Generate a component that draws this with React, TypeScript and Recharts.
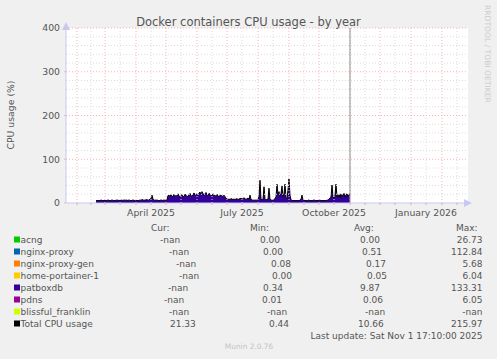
import { Area, AreaChart, CartesianGrid, ReferenceLine, XAxis, YAxis } from 'recharts';

// day numbers count from Jan 1 2025 (day 0)
const firstDataDay = 50;

// Total CPU usage (%), one value per day, Feb 20 2025 .. Nov 1 2025
const totalCpu = [
    5, 6, 5, 6, 5, 7, 6, 5, 6, 6,
    5, 6, 7, 6, 5, 6, 7, 6, 5, 6,
    6, 7, 6, 6, 5, 7, 6, 6, 7, 6,
    7, 6, 6, 7, 6, 5, 6, 7, 6, 5,
    5, 6, 5, 6, 7, 6, 8, 7, 6, 7,
    7, 8, 6, 7, 9, 10, 18, 9, 6, 7,
    6, 7, 6, 5, 6, 7, 6, 6, 7, 6,
    7, 8, 17, 18, 15, 19, 16, 14, 20, 17,
    15, 18, 21, 16, 13, 17, 19, 14, 15, 20,
    18, 14, 16, 19, 22, 17, 15, 20, 23, 18,
    21, 19, 17, 23, 25, 20, 26, 22, 18, 21,
    24, 19, 17, 22, 20, 18, 16, 21, 19, 15,
    17, 20, 16, 14, 18, 17, 16, 15, 18, 14,
    12, 9, 8, 9, 8, 10, 9, 8, 9, 8,
    9, 10, 8, 9, 10, 11, 9, 10, 12, 10,
    8, 10, 11, 9, 18, 8, 7, 6, 7, 6,
    7, 6, 8, 16, 52, 9, 7, 8, 37, 10,
    7, 8, 9, 34, 8, 7, 6, 7, 8, 10,
    14, 43, 20, 26, 15, 22, 39, 14, 21, 43,
    12, 10, 30, 55, 18, 7, 6, 5, 6, 5,
    6, 5, 6, 5, 7, 8, 18, 7, 6, 5,
    6, 5, 6, 7, 5, 6, 5, 6, 7, 6,
    5, 6, 5, 6, 7, 5, 6, 5, 6, 5,
    6, 6, 7, 8, 12, 14, 41, 15, 10, 18,
    43, 14, 19, 13, 21, 12, 20, 16, 22, 13,
    19, 21, 14, 20, 21,
];

const nowDay = 304;
const monthStartDays = [31, 59, 90, 120, 151, 181, 212, 243, 273, 304, 334, 365, 396];
const midMonthDays = [45, 74, 105, 135, 166, 196, 227, 258, 288, 319, 349, 380, 411];
const xLabelDays = [105, 196, 288, 380];
const xLabels = ['April 2025', 'July 2025', 'October 2025', 'January 2026'];

const yTicks = [0, 100, 200, 300, 400];
const yMinor = [20, 40, 60, 80, 120, 140, 160, 180, 220, 240, 260, 280, 320, 340, 360, 380];

const legendNames = ['acng', 'nginx-proxy', 'nginx-proxy-gen', 'home-portainer-1', 'patboxdb', 'pdns', 'blissful_franklin', 'Total CPU usage'];
const legendColors = ['#00CC00', '#0066B3', '#FF8000', '#FFCC00', '#330099', '#990099', '#CCFF00', '#000000'];
const curValues = ['-nan', '-nan', '-nan', '-nan', '-nan', '-nan', '-nan', '21.33'];
const minValues = ['0.00', '0.00', '0.08', '0.00', '0.34', '0.01', '-nan', '0.44'];
const avgValues = ['0.00', '0.51', '0.17', '0.05', '9.87', '0.06', '-nan', '10.66'];
const maxValues = ['26.73', '112.84', '5.68', '6.04', '133.31', '6.05', '-nan', '215.97'];

// where rrdtool put each column's text
const curX = [160, 169, 176, 179, 168, 164, 169, 170];
const minX = [260, 263, 271, 272, 263, 262, 267, 269];
const avgX = [360, 362, 366, 367, 360, 363, 365, 358];

const font = '"DejaVu Sans", sans-serif';
const textColor = '#555';
const minorGrid = '#dcdcdc';
const majorGrid = '#f4b4b4';

export default function App() {
    const data = totalCpu.map((v, i) => ({ day: firstDataDay + i, total: v }));
    const allTicks = [...monthStartDays, ...midMonthDays].sort((a, b) => a - b);

    return (
        <div style={{ position: 'absolute', left: 0, top: 0, width: 497, height: 359, background: '#f0f0f0', fontFamily: font }}>
            <svg width={0} height={0} style={{ position: 'absolute' }}>
                <defs>
                    <marker id="arrowX" markerUnits="userSpaceOnUse" markerWidth={8} markerHeight={8} viewBox="0 0 8 8" refX={4} refY={4} orient="auto">
                        <path d="M0,0 L8,4 L0,8 z" fill="#c8c8f4" />
                    </marker>
                    <marker id="arrowY" markerUnits="userSpaceOnUse" markerWidth={8} markerHeight={8} viewBox="0 0 8 8" refX={2} refY={4} orient="auto-start-reverse">
                        <path d="M0,0 L8,4 L0,8 z" fill="#c8c8f4" />
                    </marker>
                </defs>
            </svg>
            <AreaChart width={497} height={359} data={data} margin={{ top: 28, right: 29, bottom: 136, left: 36 }}>
                <CartesianGrid horizontal={false} vertical={false} fill="#ffffff" />
                <XAxis
                    dataKey="day"
                    type="number"
                    domain={[20, 422]}
                    allowDataOverflow
                    ticks={allTicks}
                    interval={0}
                    height={20}
                    tickSize={2}
                    tickMargin={4}
                    tickFormatter={(d) => {
                        const k = xLabelDays.indexOf(d);
                        return k >= 0 ? xLabels[k] : '';
                    }}
                    tick={{ fontSize: 9.3, fill: textColor, fontFamily: font }}
                    tickLine={{ stroke: '#d8b0b8' }}
                    axisLine={{ stroke: '#c8c8f4', markerEnd: 'url(#arrowX)' }}
                />
                <YAxis
                    type="number"
                    domain={[0, 400]}
                    ticks={yTicks}
                    interval={0}
                    width={30}
                    tickSize={2}
                    tickMargin={4}
                    tick={{ fontSize: 9.3, fill: textColor, fontFamily: font }}
                    tickLine={{ stroke: majorGrid }}
                    axisLine={{ stroke: '#c8c8f4', markerStart: 'url(#arrowY)' }}
                />
                <Area
                    type="linear"
                    dataKey="total"
                    stroke="#000000"
                    strokeWidth={1}
                    fill="#330099"
                    fillOpacity={1}
                    isAnimationActive={false}
                    dot={false}
                    activeDot={false}
                />
                {yMinor.map((v) => (
                    <ReferenceLine key={'ym' + v} y={v} stroke={minorGrid} strokeDasharray="1 2" />
                ))}
                {midMonthDays.map((d) => (
                    <ReferenceLine key={'xm' + d} x={d} stroke={minorGrid} strokeDasharray="1 2" ifOverflow="hidden" />
                ))}
                {yTicks.slice(1).map((v) => (
                    <ReferenceLine key={'yM' + v} y={v} stroke={majorGrid} strokeDasharray="1 2" />
                ))}
                {monthStartDays.map((d) => (
                    <ReferenceLine key={'xM' + d} x={d} stroke={majorGrid} strokeDasharray="1 2" ifOverflow="hidden" />
                ))}
                <ReferenceLine x={nowDay} stroke="#909090" strokeWidth={1} />
            </AreaChart>

            <svg width={497} height={359} style={{ position: 'absolute', left: 0, top: 0, pointerEvents: 'none' }} fontFamily={font}>
                <text x={248.5} y={26} textAnchor="middle" fontSize={11.5} fill={textColor}>
                    Docker containers CPU usage - by year
                </text>
                <text x={14} y={115} textAnchor="middle" fontSize={9.3} fill={textColor} transform="rotate(-90, 14, 115)">
                    CPU usage (%)
                </text>
                <text x={485} y={5} fontSize={7.6} fill="#cccccc" transform="rotate(90, 485, 5)">
                    RRDTOOL / TOBI OETIKER
                </text>

                <text x={151} y={230.5} fontSize={9} fill={textColor}>Cur:</text>
                <text x={250} y={230.5} fontSize={9} fill={textColor}>Min:</text>
                <text x={354} y={230.5} fontSize={9} fill={textColor}>Avg:</text>
                <text x={456} y={230.5} fontSize={9} fill={textColor}>Max:</text>

                {legendNames.map((name, i) => {
                    const base = 242.5 + i * 12;
                    return (
                        <g key={name}>
                            <rect x={14} y={base - 6} width={6} height={6} fill={legendColors[i]} />
                            <text x={20.5} y={base} fontSize={9} fill={textColor}>{name}</text>
                            <text x={curX[i]} y={base} fontSize={9} fill={textColor}>{curValues[i]}</text>
                            <text x={minX[i]} y={base} fontSize={9} fill={textColor}>{minValues[i]}</text>
                            <text x={avgX[i]} y={base} fontSize={9} fill={textColor}>{avgValues[i]}</text>
                            <text x={482.5} y={base} fontSize={9} fill={textColor} textAnchor="end">{maxValues[i]}</text>
                        </g>
                    );
                })}

                <text x={482.5} y={338.5} fontSize={9} fill={textColor} textAnchor="end">
                    Last update: Sat Nov  1 17:10:00 2025
                </text>
                <text x={249} y={349} fontSize={7.4} fill="#c4c4c4" textAnchor="middle">
                    Munin 2.0.76
                </text>
            </svg>
        </div>
    );
}
